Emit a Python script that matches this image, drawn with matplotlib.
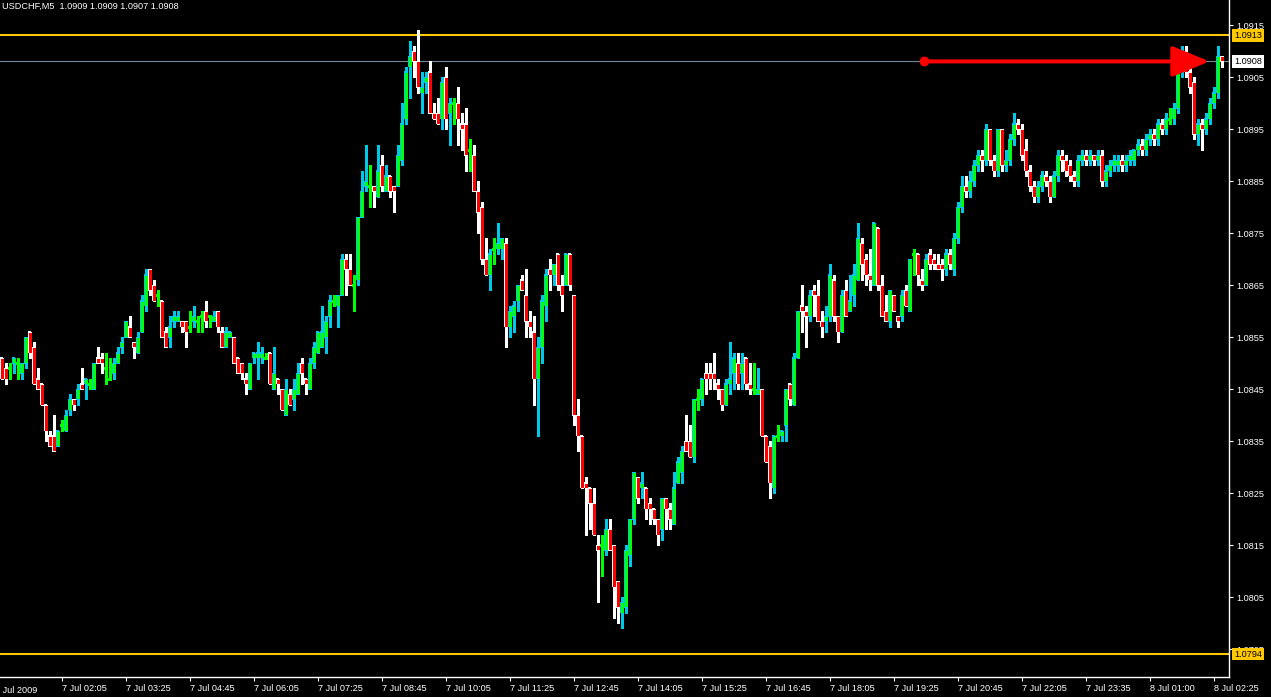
import matplotlib
matplotlib.use("Agg")
import matplotlib.pyplot as plt
import numpy as np

symbol = "USDCHF,M5"
last_ohlc = [1.0909, 1.0909, 1.0907, 1.0908]

# M5 bars, prices in pips above 1.0000 (851 -> 1.0851)
opens = [
    851, 849, 849, 850, 850, 848, 850, 856, 853, 847,
    846, 842, 836, 836, 834, 838, 837, 841, 843, 843,
    846, 846, 846, 845, 851, 851, 849, 847, 848, 850,
    853, 855, 857, 854, 852, 856, 861, 868, 865, 863,
    862, 856, 855, 858, 858, 858, 858, 857, 858, 858,
    859, 860, 859, 858, 860, 856, 853, 855, 855, 851,
    850, 847, 845, 851, 851, 851, 851, 852, 845, 847,
    845, 840, 844, 843, 844, 850, 847, 845, 850, 852,
    853, 855, 859, 862, 861, 863, 870, 868, 865, 866,
    878, 884, 884, 884, 882, 888, 883, 886, 884, 884,
    889, 897, 907, 910, 908, 902, 904, 906, 898, 898,
    897, 905, 898, 900, 900, 896, 896, 891, 890, 883,
    880, 870, 867, 872, 872, 872, 873, 857, 859, 862,
    866, 863, 858, 856, 847, 853, 861, 868, 867, 871,
    865, 865, 871, 863, 840, 836, 827, 826, 823, 815,
    815, 814, 818, 815, 808, 802, 803, 813, 820, 828,
    826, 826, 823, 822, 820, 818, 824, 822, 819, 827,
    829, 835, 835, 832, 843, 843, 848, 848, 848, 846,
    845, 842, 846, 848, 850, 848, 851, 846, 845, 844,
    845, 836, 834, 826, 836, 836, 838, 846, 842, 851,
    861, 860, 859, 864, 863, 858, 858, 859, 866, 859,
    856, 864, 860, 863, 866, 873, 870, 867, 865, 876,
    865, 860, 858, 863, 859, 859, 864, 860, 871, 871,
    866, 865, 871, 870, 869, 869, 868, 871, 868, 874,
    880, 884, 883, 885, 888, 890, 889, 895, 889, 887,
    895, 888, 889, 893, 896, 895, 891, 887, 884, 882,
    884, 886, 885, 882, 886, 890, 889, 888, 886, 885,
    889, 890, 889, 890, 889, 890, 885, 887, 888, 888,
    889, 888, 889, 889, 891, 892, 891, 893, 894, 893,
    896, 895, 897, 897, 899, 906, 910, 906, 904, 894,
    896, 895, 897, 900, 902, 909,
]
highs = [
    851, 850, 850, 851, 851, 850, 855, 856, 854, 849,
    846, 842, 837, 840, 837, 839, 841, 844, 843, 846,
    849, 847, 847, 850, 853, 852, 852, 851, 851, 853,
    855, 858, 859, 854, 856, 863, 868, 868, 866, 864,
    862, 857, 859, 860, 860, 858, 858, 860, 861, 859,
    860, 862, 859, 860, 860, 857, 857, 856, 855, 851,
    850, 848, 850, 852, 854, 853, 852, 852, 853, 847,
    845, 847, 845, 847, 850, 851, 847, 851, 854, 856,
    861, 859, 863, 863, 863, 871, 871, 871, 867, 878,
    887, 892, 888, 884, 892, 890, 888, 886, 884, 892,
    900, 907, 912, 911, 914, 906, 906, 908, 900, 901,
    905, 907, 901, 901, 903, 898, 899, 893, 892, 885,
    881, 874, 872, 874, 877, 874, 874, 861, 862, 865,
    867, 868, 860, 859, 855, 863, 868, 870, 869, 871,
    867, 871, 871, 863, 843, 836, 828, 826, 826, 817,
    817, 820, 820, 815, 808, 805, 815, 820, 829, 828,
    829, 826, 824, 822, 820, 824, 824, 823, 829, 832,
    834, 840, 838, 843, 845, 847, 850, 850, 852, 847,
    845, 847, 854, 852, 852, 852, 851, 850, 850, 849,
    845, 836, 835, 836, 838, 837, 845, 846, 852, 860,
    865, 861, 864, 865, 866, 860, 861, 869, 867, 859,
    864, 866, 867, 869, 877, 874, 871, 872, 877, 876,
    867, 863, 864, 863, 859, 864, 865, 870, 872, 871,
    868, 871, 872, 871, 871, 870, 872, 872, 875, 881,
    886, 886, 887, 889, 891, 891, 896, 895, 890, 895,
    895, 891, 894, 898, 897, 896, 893, 888, 885, 885,
    887, 887, 886, 887, 891, 891, 890, 889, 887, 890,
    891, 891, 891, 890, 891, 891, 888, 889, 890, 890,
    890, 890, 891, 891, 893, 893, 894, 895, 895, 897,
    897, 898, 899, 900, 907, 911, 911, 907, 905, 897,
    897, 898, 901, 903, 911, 909,
]
lows = [
    847, 846, 847, 848, 847, 847, 849, 851, 846, 845,
    842, 835, 834, 833, 834, 837, 837, 840, 841, 842,
    845, 843, 845, 845, 850, 848, 846, 847, 847, 850,
    852, 855, 855, 851, 852, 856, 860, 863, 862, 861,
    855, 853, 853, 857, 858, 856, 853, 856, 857, 856,
    856, 857, 857, 858, 856, 853, 853, 855, 850, 848,
    847, 844, 845, 850, 847, 850, 851, 846, 845, 844,
    841, 840, 842, 841, 844, 846, 844, 845, 849, 852,
    853, 852, 857, 861, 857, 863, 863, 865, 860, 865,
    878, 883, 880, 880, 882, 883, 883, 882, 879, 884,
    888, 896, 901, 905, 902, 898, 902, 898, 897, 896,
    895, 895, 892, 896, 892, 891, 887, 887, 883, 875,
    869, 867, 864, 869, 871, 870, 853, 855, 856, 860,
    864, 855, 855, 842, 836, 850, 858, 864, 865, 864,
    860, 865, 864, 838, 833, 826, 817, 818, 817, 804,
    809, 813, 814, 801, 800, 799, 802, 811, 819, 823,
    824, 820, 819, 819, 815, 816, 818, 818, 819, 827,
    827, 833, 832, 831, 841, 842, 844, 845, 845, 843,
    841, 842, 844, 845, 845, 845, 845, 844, 844, 844,
    836, 831, 824, 825, 835, 835, 835, 842, 842, 851,
    856, 853, 858, 859, 858, 855, 856, 858, 858, 854,
    856, 859, 860, 861, 866, 866, 865, 864, 865, 864,
    859, 858, 857, 860, 857, 858, 861, 860, 867, 865,
    864, 865, 868, 868, 868, 866, 867, 868, 867, 873,
    879, 882, 882, 884, 887, 887, 888, 888, 886, 886,
    887, 887, 888, 892, 894, 889, 886, 883, 881, 881,
    883, 884, 881, 882, 885, 887, 886, 885, 884, 884,
    888, 888, 888, 888, 888, 884, 884, 886, 887, 887,
    887, 887, 888, 888, 890, 890, 890, 892, 892, 892,
    894, 894, 896, 896, 898, 905, 905, 902, 893, 892,
    891, 894, 896, 899, 901, 907,
]
closes = [
    847, 847, 849, 851, 850, 850, 855, 852, 846, 845,
    842, 837, 834, 833, 837, 838, 840, 843, 842, 845,
    845, 847, 846, 850, 850, 850, 849, 847, 850, 852,
    854, 858, 855, 853, 855, 862, 867, 864, 862, 863,
    855, 853, 857, 859, 859, 857, 856, 857, 859, 858,
    859, 858, 859, 859, 857, 853, 856, 856, 850, 848,
    848, 846, 850, 852, 852, 852, 851, 846, 848, 846,
    841, 845, 842, 845, 848, 848, 846, 850, 853, 856,
    856, 858, 862, 862, 863, 870, 868, 865, 865, 878,
    883, 885, 884, 883, 887, 884, 886, 883, 883, 890,
    896, 906, 909, 908, 903, 903, 905, 898, 897, 896,
    904, 897, 900, 900, 897, 895, 890, 891, 883, 879,
    870, 867, 871, 872, 873, 874, 857, 860, 861, 865,
    864, 858, 857, 847, 853, 862, 867, 867, 869, 865,
    863, 871, 865, 840, 836, 826, 826, 823, 817, 814,
    815, 818, 814, 807, 803, 804, 814, 820, 829, 824,
    827, 822, 822, 820, 817, 824, 822, 820, 826, 831,
    833, 833, 832, 843, 843, 847, 847, 847, 847, 845,
    842, 846, 847, 851, 846, 850, 846, 845, 845, 845,
    836, 831, 827, 836, 836, 837, 845, 843, 851, 860,
    860, 859, 863, 863, 858, 857, 859, 867, 859, 856,
    863, 859, 862, 867, 874, 869, 867, 866, 877, 865,
    859, 858, 864, 860, 858, 863, 861, 870, 871, 867,
    865, 870, 869, 869, 868, 868, 871, 869, 874, 880,
    884, 883, 885, 888, 890, 889, 895, 889, 887, 895,
    888, 889, 893, 896, 895, 890, 887, 884, 882, 884,
    886, 885, 882, 886, 890, 889, 887, 886, 885, 889,
    890, 889, 890, 889, 890, 885, 887, 888, 889, 889,
    888, 889, 890, 891, 892, 891, 893, 894, 893, 896,
    895, 897, 897, 899, 906, 910, 906, 903, 894, 896,
    895, 897, 900, 902, 909, 908,
]

time_labels = ["7 Jul 2009", "7 Jul 02:05", "7 Jul 03:25", "7 Jul 04:45", "7 Jul 06:05",
               "7 Jul 07:25", "7 Jul 08:45", "7 Jul 10:05", "7 Jul 11:25", "7 Jul 12:45",
               "7 Jul 14:05", "7 Jul 15:25", "7 Jul 16:45", "7 Jul 18:05", "7 Jul 19:25",
               "7 Jul 20:45", "7 Jul 22:05", "7 Jul 23:35", "8 Jul 01:00", "8 Jul 02:25"]

range_high = 1.0913
range_low = 1.0794
bid = 1.0908
arrow_from_bar = 230.5
arrow_to_bar = 302

W, H = 1271, 697
BULL_FILL = "#00ff00"
BULL_EDGE = "#00c8e8"
BEAR_FILL = "#ff0000"
BEAR_EDGE = "#ffffff"
GOLD = "#ffc800"
FONT = "Liberation Sans"
FS = 6.6
PX = 1 / 52000          # one screen pixel in price units

o = 1 + np.array(opens) / 1e4
h = 1 + np.array(highs) / 1e4
l = 1 + np.array(lows) / 1e4
c = 1 + np.array(closes) / 1e4
h = np.maximum(h, np.maximum(o, c))
l = np.minimum(l, np.minimum(o, c))
x = np.arange(len(o))

up = c > o
dn = c < o
dj = c == o

fig = plt.figure(figsize=(W / 100, H / 100), dpi=100, facecolor="black")
ax = fig.add_axes([0, 20 / H, 1229 / W, 677 / H])
ax.set_facecolor("black")

# wicks
ax.vlines(x[up], l[up], h[up], colors=BULL_EDGE, linewidth=0.75, antialiased=False, zorder=2)
ax.vlines(x[dn], l[dn], h[dn], colors=BEAR_EDGE, linewidth=0.75, antialiased=False, zorder=2)
ax.vlines(x[dj], l[dj], h[dj], colors=BULL_FILL, linewidth=0.75, antialiased=False, zorder=2)


def bodies(mask, bot, top, edge, fill):
    # 3 px wide frame, 1 px coloured core
    hgt = top[mask] - bot[mask]
    ax.bar(x[mask], hgt + PX, bottom=bot[mask] - PX / 2, width=0.75, color=edge,
           linewidth=0, antialiased=False, zorder=3)
    core = hgt > 1.5 * PX
    xs = x[mask][core]
    ax.vlines(xs, bot[mask][core] + PX, top[mask][core] - PX, colors=fill,
              linewidth=0.75, antialiased=False, zorder=4)


bodies(up, o, c, BULL_EDGE, BULL_FILL)
bodies(dn, c, o, BEAR_EDGE, BEAR_FILL)
ax.hlines(c[dj], x[dj] - 0.375, x[dj] + 0.375, colors=BULL_FILL, linewidth=0.75,
          antialiased=False, zorder=3)

# levels
ax.axhline(range_high, color=GOLD, linewidth=1.5, zorder=1)
ax.axhline(range_low, color=GOLD, linewidth=1.5, zorder=1)
ax.axhline(bid, color="#778899", linewidth=0.8, zorder=1)

# red arrow
ax.plot([arrow_from_bar], [bid], "o", color="red", ms=6, zorder=5)
ax.annotate("", xy=(arrow_to_bar, bid), xytext=(arrow_from_bar, bid),
            arrowprops=dict(arrowstyle="-|>,head_length=23,head_width=9.5",
                            mutation_scale=1, color="red", lw=2.9,
                            shrinkA=0, shrinkB=0), zorder=5)

ax.set_xlim(-0.375, 306.875)
ax.set_ylim(1.078962, 1.091981)

# axes look
for s in ["top", "left"]:
    ax.spines[s].set_visible(False)
for s in ["right", "bottom"]:
    ax.spines[s].set_color("white")
    ax.spines[s].set_linewidth(1.0)

yt = np.round(np.arange(1.0795, 1.09151, 0.001), 4)
ax.yaxis.tick_right()
ax.set_yticks(yt)
ax.set_yticklabels([f"{v:.4f}" for v in yt], fontsize=FS, family=FONT)
ax.tick_params(axis="y", colors="white", length=3, width=0.8, pad=2)

tick_bars = np.arange(-1, len(o), 16)
ax.set_xticks(tick_bars[1:])
ax.set_xticklabels(time_labels[1:], fontsize=FS, family=FONT, ha="left")
ax.tick_params(axis="x", colors="white", length=3, width=0.8, pad=2)
ax.text(tick_bars[0] - 0.6, -0.013, time_labels[0], transform=ax.get_xaxis_transform(),
        ha="left", va="top", color="white", fontsize=FS, family=FONT, clip_on=False)

# price boxes on the scale
yx = ax.get_yaxis_transform()
for val, bg in [(range_high, GOLD), (bid, "white"), (range_low, GOLD)]:
    ax.text(1 + 5 / 1229, val, f"{val:.4f}", transform=yx, ha="left", va="center",
            fontsize=FS, family=FONT, color="black", clip_on=False, zorder=10,
            bbox=dict(boxstyle="square,pad=0.18", fc=bg, ec="none"))

fig.text(2 / W, 1 - 6 / H, f"{symbol}  " + " ".join(f"{v:.4f}" for v in last_ohlc),
         ha="left", va="center", color="white", fontsize=FS, family=FONT)

fig.savefig("out.png", dpi=100, facecolor="black")
